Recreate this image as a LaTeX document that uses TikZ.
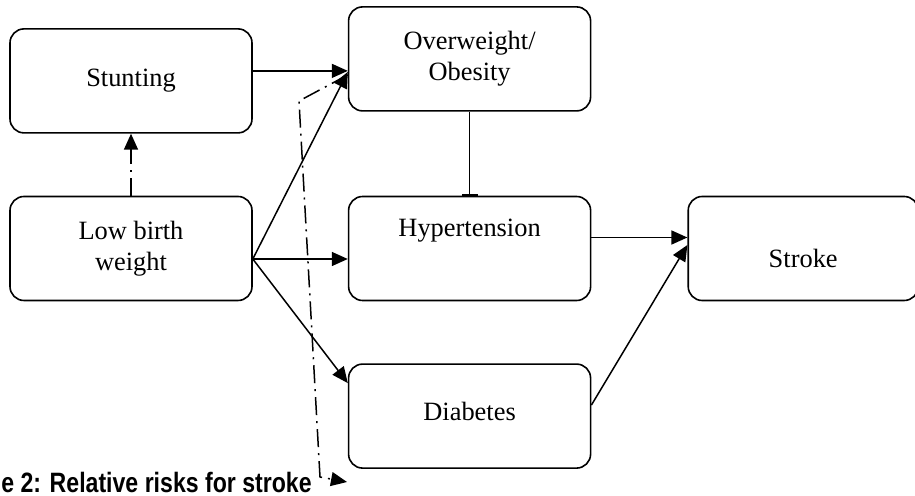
\documentclass[tikz,border=0pt]{standalone}
\usepackage{fontspec}
\setmainfont{Liberation Serif}
\newfontfamily\captionfont[FakeStretch=0.825]{Liberation Sans}
\usetikzlibrary{positioning,arrows.meta}
\tikzset{
  box/.style={rectangle, rounded corners=7pt, draw=black, line width=0.8pt, minimum width=121pt, minimum height=52pt, align=center, font=\fontsize{13.2pt}{15.5pt}\selectfont},
  connect/.style={-{Triangle[length=8pt,width=7pt]}, line width=0.75pt},
  inhibit/.style={-{Bar[width=8pt]}, line width=0.75pt},
  dashconnect/.style={connect, dash pattern=on 9pt off 3pt on 1pt off 3pt}
}

\begin{document}
\begin{tikzpicture}
  \useasboundingbox (-65.5pt,-123.75pt) rectangle (392pt,124.25pt);

  % First column: birth weight and stunting
  \node[box] (LBW) at (0,0) {Low birth\\weight};
  \node[box,above=31pt of LBW] (Stunting) {Stunting};

  % Second column: the intermediate conditions
  \node[box,right=47.5pt of LBW,text height=9pt,text depth=21pt] (Hyp) {Hypertension};
  \node[box,above=42pt of Hyp] (Obesity) {Overweight/\\Obesity};
  \node[box,below=31pt of Hyp,text depth=5pt] (Diab) {Diabetes};

  % Outcome
  \node[box,right=48pt of Hyp,minimum width=115pt,text height=19.5pt,text depth=0pt] (Stroke) {Stroke};

  % Solid arrows
  \coordinate (stuntout) at ([yshift=5pt]Stunting.east);
  \coordinate (lbwout) at ([yshift=-5.25pt]LBW.east);
  \coordinate (hypout) at ([yshift=5.5pt]Hyp.east);
  \path (stuntout) edge [connect] (stuntout -| Obesity.west);
  \path (lbwout) edge [connect] ([yshift=-6.5pt]Obesity.west);
  \path (lbwout) edge [connect] (lbwout -| Hyp.west);
  \path (lbwout) edge [connect] ([yshift=16.5pt]Diab.west);
  \path (Obesity) edge [inhibit] (Hyp);
  \path (hypout) edge [connect] (hypout -| Stroke.west);
  \path ([yshift=5.5pt]Diab.east) edge [connect] ([yshift=1.75pt]Stroke.west);

  % Dash-dotted arrows
  \path (LBW) edge [dashconnect] (Stunting);
  \coordinate (bendA) at (84pt,73.75pt);
  \coordinate (bendB) at (94.5pt,-114.25pt);
  \coordinate (dashend) at (108pt,-116.75pt);
  \draw [dashconnect] ([yshift=-8pt]Obesity.west) -- (bendA) -- (bendB) -- (dashend);

  \node[anchor=base west,inner sep=0pt,font=\captionfont\bfseries\fontsize{14pt}{16pt}\selectfont] (Caption) at (-65pt,-122.25pt) {e 2: Relative risks for stroke};
\end{tikzpicture}
\end{document}
